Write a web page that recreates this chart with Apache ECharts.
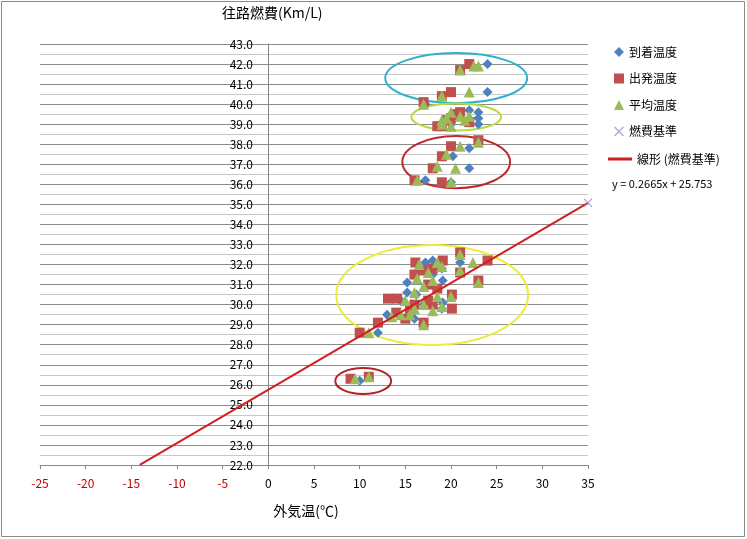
<!DOCTYPE html>
<html><head><meta charset="utf-8">
<script src="https://cdn.jsdelivr.net/npm/echarts@6/dist/echarts.min.js"></script>
<style>html,body{margin:0;padding:0;background:#fff}#c{width:747px;height:539px}</style>
</head><body><div id="c"></div>
<script>
// ---- data ----
const seriesNames = ['到着温度', '出発温度', '平均温度', '燃費基準', '線形 (燃費基準)'];
const arrivalTemp = [
  [24,42.0],[24,40.6],[17.2,40.0],
  [22,39.7],[23,39.6],[23,39.3],[23,39.0],[20,39.0],[21,39.4],[22,39.2],
  [22,37.8],[20.2,37.4],[22,36.8],[17.2,36.2],[20,36.1],
  [21,32.1],[17.2,32.1],[18,32.2],[19,31.8],[15.2,31.1],[19.1,31.2],[16.2,30.5],[15.2,30.6],
  [19.1,30.1],[19,29.8],[13,29.5],[12,28.6],[18,31.5],[17,30.0],[16,29.3],[14.5,30.2],
  [10,26.2]
];
const departureTemp = [
  [22,42.0],[21,41.7],[20,40.6],[19,40.4],[17,40.1],
  [18.5,38.9],[19,38.9],[20,39.3],[21,39.6],[20.5,39.5],[19.5,39.2],[22,39.1],
  [23,38.2],[20,37.9],[19,37.4],[18,36.8],[16,36.2],[19,36.1],
  [21,32.6],[24,32.2],[16.1,32.1],[19.1,32.2],[18,31.8],[17,31.7],[16,31.5],[21,31.6],[23,31.2],
  [17.5,31.0],[18.5,30.8],[13.1,30.3],[14.1,30.3],[20.1,30.5],[16,30.0],[17.5,30.2],[18,30.0],
  [15.5,29.8],[20.1,29.8],[14,29.6],[15,29.3],[12,29.1],[17,29.1],[10,28.6],
  [9,26.3],[11,26.4]
];
const averageTemp = [
  [23,41.9],[22.5,41.9],[21,41.7],[22,40.6],[19,40.4],[17,40.0],
  [19,39.0],[19.5,39.3],[20,39.6],[21,39.4],[21.5,39.2],[20,38.9],[22,39.4],[19,39.2],
  [23,38.1],[21,37.9],[19.5,37.5],[18.5,36.9],[20.5,36.8],[16.3,36.2],[20,36.1],
  [21,32.5],[22.4,32.1],[16.5,32.0],[18.5,32.1],[19,31.9],[17.5,31.6],[16.3,31.3],[18,31.2],
  [17,30.9],[23,31.1],[16,30.6],[18.5,30.4],[15,30.2],[17,30.0],[19,29.9],[16,29.8],
  [14.5,29.5],[18,29.7],[13.5,29.4],[15.5,29.5],[17,29.0],[11,28.6],[20,30.4],[21,31.7],
  [9.5,26.3],[11,26.4]
];
const fuelStandard = [[35,35.08]];
const trendSlope = 0.2665;
const trendIntercept = 25.753;
const trendXRange = [-14.08, 35];
const equationText = 'y = 0.2665x + 25.753';
// highlight ellipses: [centerX, centerY, radiusX, radiusY] in data units
const ellipses = [
  [20.57, 41.30, 7.77, 1.25],
  [20.57, 39.36, 4.92, 0.67],
  [20.57, 37.11, 5.90, 1.30],
  [17.94, 30.48, 10.5, 2.49],
  [10.39, 26.19, 3.06, 0.65]
];
const xTicks = {min: -25, max: 35, interval: 5};
const yTicks = {min: 22, max: 43, interval: 1};
const yTitle = '往路燃費(Km/L)';
const xTitle = '外気温(℃)';

// ---- styles ----
const ellipseColors = ['#2fb0cf', '#b5dc3c', '#c0282c', '#ecec3a', '#b02428'];
const font = '"Noto Sans CJK JP", "Noto Sans", sans-serif';
const trendData = trendXRange.map(x => [x, trendSlope * x + trendIntercept]);
const crossPath = 'path://M0,1L1,0L5,4L9,0L10,1L6,5L10,9L9,10L5,6L1,10L0,9L4,5Z';

const chart = echarts.init(document.getElementById('c'), null, {renderer: 'canvas'});
chart.setOption({
  animation: false,
  backgroundColor: '#fff',
  textStyle: {fontFamily: font},
  grid: {left: 40, right: 159, top: 44, bottom: 74},
  graphic: [
    {type: 'rect', shape: {x: 1.5, y: 1.5, width: 743, height: 535}, style: {fill: 'none', stroke: '#8a8a8a', lineWidth: 1}, z: 0},
    {type: 'text', left: 222, top: 6, style: {text: yTitle, font: '14px ' + font, fill: '#000'}},
    {type: 'text', left: 612, top: 178, style: {text: equationText, font: '11px ' + font, fill: '#000'}}
  ],
  xAxis: {
    type: 'value', min: xTicks.min, max: xTicks.max, interval: xTicks.interval,
    name: xTitle, nameLocation: 'middle', nameGap: 39,
    nameTextStyle: {fontSize: 14, color: '#000', padding: [0, 16, 0, 0]},
    axisLine: {onZero: false, lineStyle: {color: '#868686'}},
    axisTick: {show: true, length: 4, lineStyle: {color: '#868686'}},
    axisLabel: {fontSize: 12, margin: 12, color: v => v < 0 ? '#c00000' : '#000'},
    splitLine: {show: false}
  },
  yAxis: {
    type: 'value', min: yTicks.min, max: yTicks.max, interval: yTicks.interval,
    axisLine: {show: true, onZero: true, lineStyle: {color: '#868686'}},
    axisTick: {show: false},
    axisLabel: {fontSize: 12, margin: -213, color: '#000', formatter: v => v.toFixed(1)},
    splitLine: {show: true, lineStyle: {color: '#8c8c8c', width: 1}},
    minorTick: {show: false, splitNumber: 2},
    minorSplitLine: {show: true, lineStyle: {color: '#c8c8c8', width: 1}}
  },
  legend: [
    {
      data: [
        {name: seriesNames[0], icon: 'diamond'},
        {name: seriesNames[1], icon: 'rect'},
        {name: seriesNames[2], icon: 'triangle'},
        {name: seriesNames[3], icon: crossPath}
      ],
      orient: 'vertical', left: 609, top: 40, itemWidth: 10, itemHeight: 10, itemGap: 12.5,
      textStyle: {fontSize: 12, color: '#000', lineHeight: 14},
      selectedMode: false
    },
    {
      data: [{name: seriesNames[4], icon: 'rect'}],
      orient: 'vertical', left: 603, top: 147, itemWidth: 24, itemHeight: 3, itemGap: 0,
      textStyle: {fontSize: 12, color: '#000', lineHeight: 14},
      selectedMode: false
    }
  ],
  series: [
    {
      type: 'custom', name: 'ellipses', silent: true, z: 1,
      data: ellipses,
      renderItem: (params, api) => {
        const c = api.coord([api.value(0), api.value(1)]);
        const s = api.size([api.value(2), api.value(3)]);
        return {
          type: 'ellipse',
          shape: {cx: c[0], cy: c[1], rx: s[0], ry: s[1]},
          style: {fill: 'none', stroke: ellipseColors[params.dataIndex], lineWidth: 2}
        };
      }
    },
    {type: 'scatter', name: seriesNames[0], data: arrivalTemp, symbol: 'diamond', symbolSize: 10,
     itemStyle: {color: '#4f81bd', opacity: 1}, z: 3},
    {type: 'scatter', name: seriesNames[1], data: departureTemp, symbol: 'rect', symbolSize: 10,
     itemStyle: {color: '#c0504d', opacity: 1}, z: 3},
    {type: 'scatter', name: seriesNames[2], data: averageTemp, symbol: 'triangle', symbolSize: 11,
     itemStyle: {color: '#9bbb59', opacity: 1}, z: 3},
    {type: 'line', name: seriesNames[4], data: trendData, symbol: 'none',
     lineStyle: {color: '#d01f1f', width: 2}, itemStyle: {color: '#d01f1f'}, z: 4},
    {type: 'scatter', name: seriesNames[3], data: fuelStandard, symbol: crossPath, symbolSize: 9,
     itemStyle: {color: '#9f92ba'}, z: 5}
  ]
});
</script></body></html>
